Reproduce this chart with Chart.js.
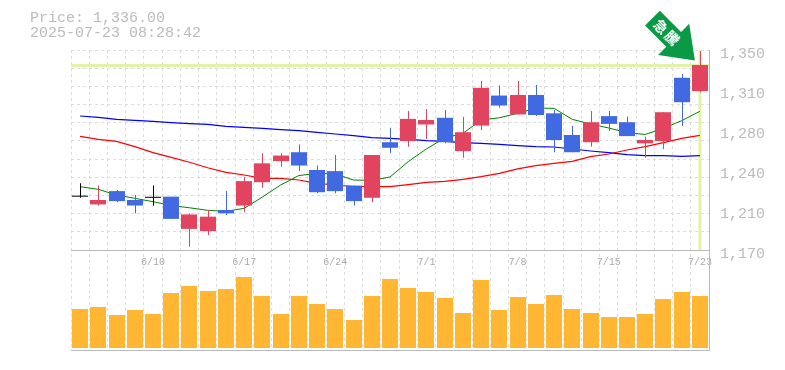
<!DOCTYPE html>
<html>
<head>
<meta charset="utf-8">
<style>
    html, body { margin: 0; padding: 0; background: #fff; }
    #wrap { width: 785px; height: 370px; }
</style>
<script src="https://cdn.jsdelivr.net/npm/chart.js@4"></script>
</head>
<body>
<div id="wrap"><canvas id="stockChart" width="785" height="370"></canvas></div>
<script>
// Dates, one per session. Only some of them get a label on the axis
const dates = ['6/4','6/5','6/6','6/9','6/10','6/11','6/12','6/13','6/16','6/17','6/18','6/19','6/20','6/23','6/24','6/25','6/26','6/27','6/30','7/1','7/2','7/3','7/4','7/7','7/8','7/9','7/10','7/11','7/14','7/15','7/16','7/17','7/18','7/22','7/23'];
const shownDates = ['6/10','6/17','6/24','7/1','7/8','7/15','7/23'];

// Candles
const opens  = [1218,1211,1223,1215,1217,1218,1189,1187,1206,1210,1231,1250,1258,1242,1241,1228,1217,1267,1268,1283,1289,1259,1282,1309,1292,1309.5,1293,1273.5,1267,1290.5,1285,1266,1268,1325,1313];
const closes = [1218,1215,1214,1210,1217,1198,1202,1200,1203,1232,1248,1255,1246,1222,1223,1214,1255.5,1262,1288,1287,1267,1276,1316,1300,1309.5,1291.5,1269,1258,1285,1283.5,1272.5,1269,1294,1303,1336.5];
const highs  = [1230,1228,1224,1219.5,1228,1218,1203,1206,1223,1236,1257,1257,1265,1246,1255.5,1228,1255.5,1280,1295,1297,1296,1290,1322,1318,1322,1318.5,1296,1281.5,1295,1295,1290,1272,1294,1328.5,1349];
const lows   = [1217,1210,1213,1203,1210,1198,1173,1183.5,1201.5,1204,1226,1245,1241,1221,1221,1210,1213,1257,1263,1270,1266,1253,1278,1298,1292,1290.5,1258,1258,1263,1277,1272.5,1253,1261,1281.5,1312];

// Moving averages
const maShort = [1227,1224.6,1219.5,1216.5,1213.5,1210,1208,1205.7,1204.8,1207.5,1217.7,1228.5,1237,1239,1238.4,1233,1232.7,1235.7,1249.5,1261,1270.8,1275,1287,1289,1293,1297.8,1297.5,1287.6,1283.4,1279.8,1275.6,1274,1279.5,1286.4,1294.8];
const maMid   = [1272.3,1269.6,1267.8,1263,1257.6,1253.4,1249,1244,1239.9,1237.5,1234.5,1234.5,1233,1230,1228.5,1227,1227,1227,1228.8,1230.9,1231.8,1233.6,1236,1239,1243,1245.9,1248,1249.8,1254,1256.4,1260,1263,1266.6,1270.5,1273.2];
const maLong  = [1290.6,1289.4,1287.6,1286.7,1285.8,1284.6,1283.7,1283,1281.3,1280.4,1279.5,1278.3,1277.4,1275.9,1274.4,1272.9,1271.1,1270.5,1269.6,1268.4,1267.8,1266.6,1266,1265.1,1263.9,1263,1262.7,1260.9,1259.1,1257.6,1255.8,1254.9,1254.9,1254.3,1254.9];

// Volume, no unit shown on the chart
const volumes = [39,41,33,38,34,55,62,57,59,71,52,34,52,44,39,28,52,69,60,56,50,35,68,38,51,44,53,39,35,31,31,34,49,56,52];

// Price axis
const priceTicks = [1170,1206,1242,1278,1314,1350];
const lastPrice = 1336;
const infoLines = ['Price: 1,336.00', '2025-07-23 08:28:42'];
const badgeText = ['急', '騰'];

const UP = '#E2445F', DOWN = '#4169E1', FLAT = '#000000';
const GRID = '#DDDDDD', AXIS = '#BBBBBB', TEXT = '#BBBBBB';
const HILITE = '#E2F2A8';
const MONO = 'Liberation Mono';
const candleColours = opens.map((o, i) => closes[i] > o ? UP : closes[i] < o ? DOWN : FLAT);

// Snap candles to whole pixels so the wicks stay 1px wide and sharp
const snapCandles = {
    id: 'snapCandles',
    afterDatasetsUpdate(chart) {
        chart.getDatasetMeta(0).data.forEach(el => { el.x = Math.round(el.x); });
        chart.getDatasetMeta(1).data.forEach(el => { el.x = Math.round(el.x) + 0.5; });
        chart.getDatasetMeta(5).data.forEach(el => { el.x = Math.round(el.x); });
    }
};

// Current price marker, arrow and the text block at top left
const decorations = {
    id: 'decorations',
    beforeDatasetsDraw(chart) {
        const { ctx, chartArea, scales } = chart;
        const py = scales.y.getPixelForValue(lastPrice);
        const lx = scales.x.getPixelForValue(dates.length - 1);
        ctx.save();
        ctx.strokeStyle = HILITE;
        ctx.lineWidth = 3;
        ctx.beginPath();
        ctx.moveTo(chartArea.left, py);
        ctx.lineTo(chartArea.right, py);
        ctx.moveTo(lx, chartArea.top);
        ctx.lineTo(lx, scales.y.getPixelForValue(1170));
        ctx.stroke();
        ctx.restore();
    },
    afterDatasetsDraw(chart) {
        const { ctx, scales } = chart;
        // Arrow points at the top of the last candle
        const tipX = scales.x.getPixelForValue(dates.length - 1) - 5;
        const tipY = scales.y.getPixelForValue(lastPrice) - 5;
        ctx.save();
        ctx.translate(tipX, tipY);
        ctx.rotate(Math.PI / 4);
        ctx.fillStyle = '#0A9A46';
        ctx.beginPath();
        ctx.moveTo(0, 0);
        ctx.lineTo(-30, -22);
        ctx.lineTo(-30, -10.5);
        ctx.lineTo(-60, -10.5);
        ctx.lineTo(-60, 10.5);
        ctx.lineTo(-30, 10.5);
        ctx.lineTo(-30, 22);
        ctx.closePath();
        ctx.fill();
        ctx.fillStyle = '#FFFFFF';
        ctx.font = 'bold 14px "Noto Sans CJK JP"';
        ctx.textAlign = 'center';
        ctx.textBaseline = 'middle';
        ctx.fillText(badgeText[0], -48, 0);
        ctx.fillText(badgeText[1], -32, 0);
        ctx.restore();

        ctx.save();
        ctx.fillStyle = TEXT;
        ctx.font = '15px "' + MONO + '"';
        ctx.textBaseline = 'middle';
        ctx.fillText(infoLines[0], 30, 18);
        ctx.fillText(infoLines[1], 30, 33);
        ctx.restore();
    }
};

const stockConfig = {
    data: {
        labels: dates,
        datasets: [
            { type: 'bar', label: 'Body', data: opens.map((o, i) => [o, closes[i]]), yAxisID: 'y',
              backgroundColor: candleColours, barThickness: 16, minBarLength: 1, grouped: false, inflateAmount: 0, order: 1 },
            { type: 'bar', label: 'Wick', data: lows.map((l, i) => [l, highs[i]]), yAxisID: 'y',
              backgroundColor: candleColours, barThickness: 1, grouped: false, inflateAmount: 0, order: 2 },
            { type: 'line', label: 'MA short', data: maShort, yAxisID: 'y', borderColor: '#008000', borderWidth: 1, pointRadius: 0, tension: 0, order: 3 },
            { type: 'line', label: 'MA mid', data: maMid, yAxisID: 'y', borderColor: '#FF0000', borderWidth: 1.2, pointRadius: 0, tension: 0, order: 4 },
            { type: 'line', label: 'MA long', data: maLong, yAxisID: 'y', borderColor: '#0000FF', borderWidth: 1.2, pointRadius: 0, tension: 0, order: 5 },
            { type: 'bar', label: 'Volume', data: volumes, yAxisID: 'yVol',
              backgroundColor: '#FFB733', barThickness: 16, grouped: false, inflateAmount: 0, order: 6 }
        ]
    },
    options: {
        responsive: false,
        animation: false,
        layout: { padding: { top: 50, bottom: 20, left: 0, right: 0 } },
        plugins: {
            legend: { display: false },
            tooltip: { enabled: false },
            title: { display: false }
        },
        scales: {
            x: {
                type: 'category',
                position: { y: 1170 },
                offset: true,
                grid: { offset: true, color: GRID, drawTicks: false },
                border: { display: true, color: AXIS, dash: [3, 3] },
                ticks: {
                    autoSkip: false,
                    maxRotation: 0,
                    padding: 6,
                    color: '#AAAAAA',
                    font: { family: MONO, size: 10 },
                    callback(value) {
                        const d = this.getLabelForValue(value);
                        return shownDates.includes(d) ? d : '';
                    }
                }
            },
            // Labelled price axis, it runs down through the volume panel so both panels share one chart area
            y: {
                position: 'right',
                min: 1080,
                max: 1350,
                afterBuildTicks: (scale) => { scale.ticks = priceTicks.map(v => ({ value: v })); },
                afterFit: (scale) => { scale.width = 76; },
                grid: { display: false },
                border: { display: true, color: AXIS },
                ticks: {
                    color: TEXT,
                    padding: 3,
                    labelOffset: 4,
                    font: { family: MONO, size: 15 },
                    callback: (value) => (Math.round(value / 10) * 10).toLocaleString('en-US')
                }
            },
            // Dashed horizontal grid for the price panel only
            yGrid: {
                position: 'left',
                min: 1080,
                max: 1350,
                afterBuildTicks: (scale) => {
                    scale.ticks = Array.from({ length: 12 }, (_, i) => ({ value: 1170 + i * 180 / 11 }));
                },
                afterFit: (scale) => { scale.width = 71; },
                grid: { color: GRID, drawTicks: false },
                border: { display: false, dash: [3, 3] },
                ticks: { display: false }
            },
            yVol: {
                position: 'left',
                min: -2,
                max: 298,
                afterBuildTicks: (scale) => { scale.ticks = [{ value: -2 }]; },
                afterFit: (scale) => { scale.width = 0; },
                grid: { color: AXIS, drawTicks: false },
                border: { display: false },
                ticks: { display: false }
            }
        }
    },
    plugins: [snapCandles, decorations]
};

const stockChart = new Chart('stockChart', stockConfig);
</script>
</body>
</html>
